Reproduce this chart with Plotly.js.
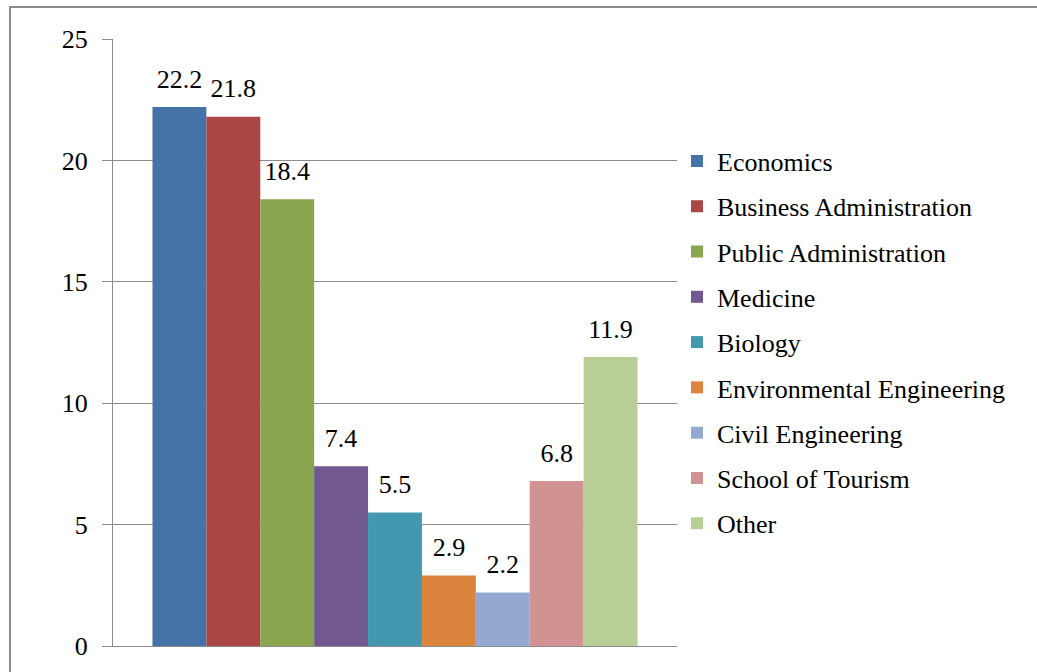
<!DOCTYPE html>
<html>
<head>
<meta charset="utf-8">
<script src="https://cdn.plot.ly/plotly-3.0.1.min.js"></script>
<style>
  html, body { margin: 0; padding: 0; background: #ffffff; overflow: hidden; }
  #chart { position: absolute; left: 0; top: 0; width: 1037px; height: 672px; }
</style>
</head>
<body>
<div id="chart"></div>
<script>
// Share of students by field of study (%)
const fields = [
  'Economics',
  'Business Administration',
  'Public Administration',
  'Medicine',
  'Biology',
  'Environmental Engineering',
  'Civil Engineering',
  'School of Tourism',
  'Other'
];
const shares = [22.2, 21.8, 18.4, 7.4, 5.5, 2.9, 2.2, 6.8, 11.9];
const barColors = [
  '#4572A7', '#AA4643', '#89A54E', '#71588F', '#4198AF',
  '#DB843D', '#93A9CF', '#D19392', '#B9CD96'
];
const yTicks = [0, 5, 10, 15, 20, 25];

const serif = 'Liberation Serif';

// one bar trace per field, all in a single category slot
const barTraces = fields.map((name, i) => ({
  type: 'bar',
  name: name,
  legendgroup: 'g' + i,
  x: [''],
  y: [shares[i]],
  marker: { color: barColors[i], line: { width: 0 } },
  hoverinfo: 'name+y'
}));

// value labels, grouped the same way as the bars so each sits over its bar
const labelTraces = fields.map((name, i) => ({
  type: 'scatter',
  mode: 'markers+text',
  name: name,
  legendgroup: 'g' + i,
  showlegend: false,
  x: [''],
  y: [shares[i]],
  text: [shares[i].toFixed(1)],
  textposition: 'top center',
  marker: { size: 19, opacity: 0, color: barColors[i] },
  textfont: { family: serif, size: 26, color: '#000000' },
  cliponaxis: false,
  hoverinfo: 'skip'
}));

const layout = {
  width: 1037,
  height: 672,
  margin: { l: 113, r: 360, t: 39, b: 26, pad: 0 },
  paper_bgcolor: '#ffffff',
  plot_bgcolor: '#ffffff',
  barmode: 'group',
  bargap: 0.14,
  bargroupgap: 0,
  scattermode: 'group',
  scattergap: 0.14,
  font: { family: serif, size: 26, color: '#000000' },
  xaxis: {
    showticklabels: false,
    ticks: '',
    showgrid: false,
    showline: true,
    linecolor: '#8c8c8c',
    linewidth: 1,
    zeroline: false,
    fixedrange: true
  },
  yaxis: {
    range: [0, 25],
    tickvals: yTicks,
    ticktext: yTicks.map(String),
    ticks: 'outside',
    ticklen: 10,
    tickcolor: '#8c8c8c',
    tickwidth: 1,
    ticklabelstandoff: 9,
    showline: true,
    linecolor: '#8c8c8c',
    linewidth: 1,
    showgrid: true,
    gridcolor: '#8c8c8c',
    gridwidth: 1,
    zeroline: false,
    tickfont: { family: serif, size: 26, color: '#000000' },
    fixedrange: true
  },
  // chart-area frame: left and top edges show, the rest runs past the page
  shapes: [{
    type: 'rect',
    xref: 'paper', yref: 'paper',
    x0: -0.1826, x1: 1.65,
    y0: -0.06, y1: 1.0527,
    line: { color: '#8a8a8a', width: 2 },
    fillcolor: 'rgba(0,0,0,0)',
    layer: 'above'
  }],
  showlegend: true,
  legend: {
    x: 1.0,
    xanchor: 'left',
    y: 0.5,
    yanchor: 'middle',
    tracegroupgap: 8.5,
    font: { family: serif, size: 26, color: '#000000' },
    bgcolor: 'rgba(0,0,0,0)',
    borderwidth: 0
  }
};

Plotly.newPlot('chart', barTraces.concat(labelTraces), layout,
  { displayModeBar: false, staticPlot: true });
</script>
</body>
</html>
